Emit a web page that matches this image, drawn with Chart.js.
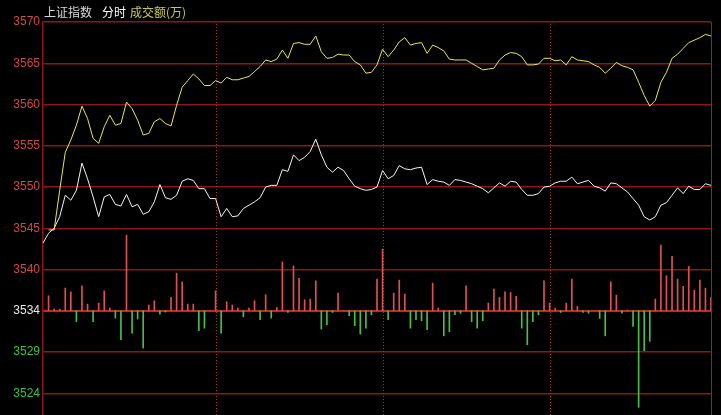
<!DOCTYPE html>
<html><head><meta charset="utf-8">
<script src="https://cdn.jsdelivr.net/npm/chart.js@4"></script>
<style>html,body{margin:0;padding:0;background:#000;overflow:hidden}#wrap{position:relative;width:721px;height:415px;background:#000}</style>
</head><body><div id="wrap"><canvas id="c" width="721" height="415"></canvas></div>
<script>
const indexName = '上证指数';
const modeName = '分时';
const volName = '成交额(万)';

const categories = Array.from({length: 121}, (_, i) => i);

const priceLine = [null,3544.8,3544.8,3549.6,3554.2,3555.7,3557.5,3559.8,3558.3,3555.9,
3555.3,3557.3,3558.7,3557.5,3557.7,3560.3,3559.5,3558.1,3556.3,3556.5,
3557.9,3558.3,3557.7,3557.4,3559.9,3562.1,3562.9,3563.7,3563.1,3562.3,
3562.3,3562.9,3562.6,3563.3,3563.0,3563.0,3563.2,3563.4,3564.0,3564.6,
3565.4,3565.2,3565.5,3566.6,3565.6,3567.4,3567.5,3567.3,3567.3,3568.3,
3566.4,3565.6,3565.7,3566.1,3566.0,3566.0,3565.2,3564.8,3563.8,3563.9,
3564.8,3566.7,3565.8,3566.6,3567.6,3568.1,3567.2,3567.4,3567.5,3566.2,
3567.2,3566.9,3566.5,3565.5,3565.4,3565.4,3565.4,3565.0,3564.6,3564.2,
3564.3,3564.4,3565.4,3566.0,3566.3,3566.2,3565.8,3564.8,3564.8,3564.9,
3565.6,3565.6,3565.3,3565.4,3564.8,3565.8,3565.4,3565.3,3565.2,3564.8,
3564.5,3563.8,3564.4,3565.1,3564.7,3564.5,3564.2,3562.7,3561.1,3559.8,
3560.5,3562.7,3563.9,3565.6,3566.1,3566.8,3567.5,3567.8,3568.1,3568.5,
3568.3];

const avgLine = [3543.2,3544.4,3545.0,3546.4,3549.0,3548.4,3549.6,3552.9,3551.0,3548.8,
3546.4,3548.8,3549.1,3547.9,3547.7,3549.1,3547.6,3547.9,3546.7,3547.0,
3548.2,3550.3,3548.7,3548.5,3549.0,3550.7,3551.0,3550.8,3549.8,3549.8,
3548.6,3548.6,3546.4,3547.4,3546.4,3546.5,3547.4,3547.8,3548.2,3548.7,
3550.0,3550.2,3550.2,3552.1,3551.9,3553.9,3553.2,3553.6,3554.3,3555.8,
3553.9,3552.4,3551.8,3552.4,3552.0,3551.0,3550.1,3549.8,3549.6,3549.7,
3550.0,3552.0,3551.0,3551.4,3552.6,3552.2,3552.1,3552.3,3552.4,3550.3,
3550.9,3550.7,3550.6,3550.2,3550.9,3550.8,3550.6,3550.4,3550.1,3549.8,
3549.3,3549.9,3550.5,3550.1,3550.7,3550.6,3549.7,3549.0,3549.0,3549.2,
3550.0,3550.1,3550.5,3550.7,3550.7,3551.2,3550.4,3550.6,3550.8,3550.1,
3549.9,3549.5,3550.5,3550.4,3549.9,3549.4,3548.6,3547.8,3546.4,3546.0,
3546.4,3547.8,3548.1,3549.0,3549.9,3549.2,3550.1,3549.7,3549.7,3550.4,
3550.2];

const volumeDelta = [0,1.82,0.2,0.2,2.75,2.3,-1.33,3.03,0.81,-1.33,
0.93,2.42,0.33,-0.88,-3.51,9.16,-2.7,-1.0,-4.52,0.69,
1.21,-0.4,-0.15,1.62,4.56,3.51,0.81,0.81,-2.42,-2.1,
0,2.42,-2.7,1.09,0.69,0.33,-0.73,0.33,1.21,-1.09,
1.94,-0.88,0.4,5.93,-0.2,5.45,3.92,1.33,1.42,3.63,
-2.22,-1.69,-0.2,2.14,0,-0.6,-1.81,-2.82,-2.1,-0.48,
3.84,7.47,-1.09,2.14,3.72,2.02,-2.1,-1.09,-1.21,-2.3,
3.35,0.33,-3.03,-2.54,-0.48,-0.31,3.03,-1.33,-2.1,-1.21,
0.93,2.63,1.62,2.3,2.22,1.74,-2.1,-4.12,-1.33,-0.48,
3.63,0.93,0.29,-0.2,0.93,3.84,0.53,-0.2,-0.3,0,
-0.92,-3.03,3.51,1.9,-0.3,0.1,-1.89,-11.7,-4.84,-3.7,
1.42,7.95,4.24,6.59,3.84,2.95,5.38,2.5,3.72,2.75,
1.62];

const baseValue = 3535;
const tickValues = [3525,3530,3535,3540,3545,3550,3555,3560,3565,3570];
const tickLabels = ['3524','3529','3534','3540','3545','3550','3555','3560','3565','3570'];
const tickColors = ['#3cc43c','#3cc43c','#e8e8e8','#d04848','#d04848','#d04848','#d04848','#d04848','#d04848','#d04848'];
const dividerIndices = [31, 61, 91];

const GRID = '#8a1818';

const framePlugin = {
  id: 'frame',
  beforeDatasetsDraw(chart) {
    const {ctx, chartArea: a, scales: {x}} = chart;
    ctx.save();
    ctx.strokeStyle = '#b03030';
    ctx.lineWidth = 1;
    ctx.setLineDash([1, 2]);
    dividerIndices.forEach(i => {
      const px = Math.round(x.getPixelForValue(i)) + 0.5;
      ctx.beginPath(); ctx.moveTo(px, a.top + 2); ctx.lineTo(px, a.bottom); ctx.stroke();
    });
    ctx.setLineDash([]);
    ctx.strokeStyle = '#a02020';
    const rx = Math.round(x.getPixelForValue(categories.length - 1)) + 0.5;
    ctx.beginPath(); ctx.moveTo(rx, a.top); ctx.lineTo(rx, a.bottom); ctx.stroke();
    ctx.restore();
  },
  afterDraw(chart) {
    const ctx = chart.ctx;
    ctx.save();
    ctx.font = '12px "Noto Sans CJK SC"';
    ctx.textBaseline = 'middle';
    ctx.textAlign = 'left';
    ctx.fillStyle = '#d8d8d8'; ctx.fillText(indexName, 44, 12);
    ctx.fillStyle = '#ffffff'; ctx.fillText(modeName, 102, 12);
    ctx.fillStyle = '#c8c85a'; ctx.fillText(volName, 130, 12);
    ctx.restore();
  }
};

new Chart(document.getElementById('c'), {
  type: 'bar',
  data: {
    labels: categories,
    datasets: [
      {
        type: 'line', label: 'price', data: priceLine,
        borderColor: '#e8e850', borderWidth: 1, pointRadius: 0, tension: 0, order: 1
      },
      {
        type: 'line', label: 'avg', data: avgLine,
        borderColor: '#f4f4f4', borderWidth: 1, pointRadius: 0, tension: 0, order: 2
      },
      {
        type: 'bar', label: 'vol',
        data: volumeDelta.map(d => [baseValue, baseValue + d]),
        backgroundColor: volumeDelta.map(d => d >= 0 ? '#e05050' : '#46c046'),
        barThickness: 1, borderWidth: 0, order: 3
      }
    ]
  },
  options: {
    responsive: false,
    animation: false,
    devicePixelRatio: 1,
    layout: {autoPadding: false, padding: {top: 22, right: 10, left: 0, bottom: 0}},
    plugins: {legend: {display: false}, tooltip: {enabled: false}},
    scales: {
      x: {type: 'category', offset: false, display: false, grid: {display: false}},
      y: {
        min: 3522.37, max: 3570,
        afterBuildTicks: s => { s.ticks = tickValues.map(v => ({value: v})); },
        afterFit: s => { s.width = 43; s.paddingTop = 0; s.paddingBottom = 0; },
        ticks: {
          padding: 3,
          font: {family: '"Liberation Sans", Arial, sans-serif', size: 12},
          color: c => tickColors[tickValues.indexOf(c.tick.value)],
          callback: v => tickLabels[tickValues.indexOf(v)]
        },
        grid: {
          drawTicks: false,
          color: c => c.tick && c.tick.value === baseValue ? '#c02828' : GRID,
          lineWidth: c => c.tick && c.tick.value === baseValue ? 2 : 1.5
        },
        border: {display: true, color: GRID, width: 1.5}
      }
    }
  },
  plugins: [framePlugin]
});
</script>
</body></html>
